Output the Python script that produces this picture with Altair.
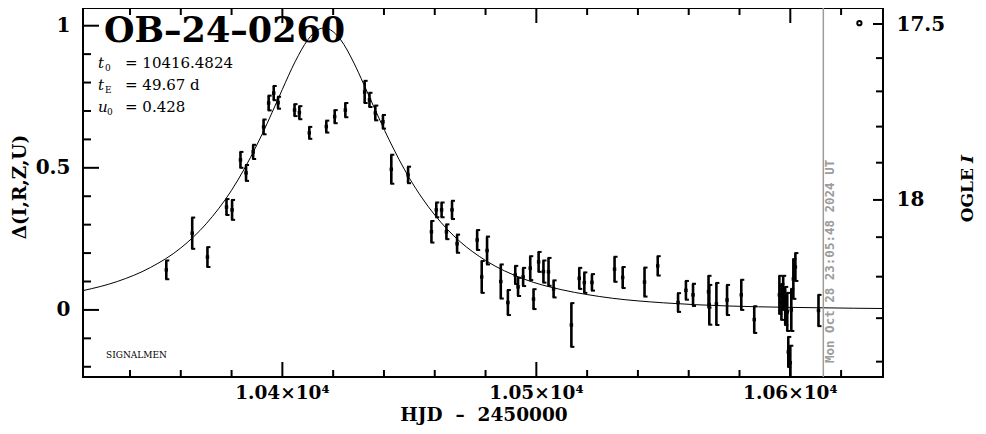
import altair as alt
import pandas as pd

# ---------------- data ----------------
hjd = [10354.3, 10364.5, 10370.5, 10378.0, 10380.2, 10383.5, 10385.7, 10388.5, 10392.6, 10394.6,
       10396.6, 10398.3, 10404.8, 10406.7, 10410.6, 10417.3, 10420.6, 10424.8, 10432.4, 10434.3,
       10436.6, 10439.6, 10442.9, 10449.5, 10458.7, 10460.6, 10462.7, 10464.6, 10466.8, 10468.8,
       10476.7, 10478.5, 10480.6, 10486.0, 10488.8, 10491.7, 10492.8, 10494.8, 10497.6, 10498.9,
       10500.9, 10502.8, 10504.8, 10506.8, 10513.8, 10516.9, 10518.9, 10521.9, 10530.8, 10534.0,
       10542.6, 10547.8, 10555.8, 10558.9, 10561.7, 10567.8, 10568.1, 10570.9, 10575.1, 10580.7,
       10585.8, 10595.7, 10596.5, 10597.2, 10598.0, 10598.8, 10599.2, 10600.0, 10600.4, 10601.2,
       10602.0, 10611.1]
delta = [0.141, 0.270, 0.186, 0.362, 0.352, 0.528, 0.482, 0.556, 0.644, 0.728,
         0.763, 0.729, 0.703, 0.694, 0.623, 0.645, 0.680, 0.703, 0.767, 0.739,
         0.693, 0.662, 0.495, 0.475, 0.275, 0.352, 0.352, 0.275, 0.352, 0.233,
         0.246, 0.116, 0.209, 0.100, 0.026, 0.123, 0.081, 0.116, 0.147, 0.038,
         0.169, 0.135, 0.134, 0.074, -0.053, 0.111, 0.096, 0.097, 0.143, 0.114,
         0.098, 0.155, 0.026, 0.069, 0.053, 0.064, 0.018, 0.021, 0.035, 0.053,
         -0.034, 0.053, 0.028, 0.060, 0.014, -0.007, -0.148, -0.186, 0.000, 0.109,
         0.151, -0.002]
delta_err = [0.033, 0.055, 0.035, 0.028, 0.035, 0.028, 0.028, 0.025, 0.026, 0.026,
             0.025, 0.021, 0.021, 0.023, 0.021, 0.021, 0.023, 0.025, 0.039, 0.025,
             0.026, 0.024, 0.051, 0.029, 0.038, 0.026, 0.026, 0.026, 0.032, 0.032,
             0.035, 0.056, 0.049, 0.060, 0.044, 0.032, 0.032, 0.032, 0.042, 0.035,
             0.035, 0.039, 0.049, 0.030, 0.077, 0.037, 0.036, 0.029, 0.044, 0.037,
             0.051, 0.034, 0.033, 0.033, 0.039, 0.056, 0.070, 0.074, 0.053, 0.053,
             0.047, 0.067, 0.063, 0.060, 0.067, 0.067, 0.053, 0.060, 0.074, 0.070,
             0.049, 0.055]

model_hjd = [10321.5, 10335, 10348, 10360, 10370, 10380, 10390, 10394, 10398, 10400,
             10405, 10410, 10414, 10416.5, 10419, 10423, 10428, 10432, 10435, 10442,
             10450, 10455, 10460, 10465, 10470, 10480, 10495, 10510, 10520, 10530,
             10550, 10575, 10600, 10625, 10636.5]
model_delta = [0.068, 0.100, 0.149, 0.218, 0.303, 0.421, 0.581, 0.656, 0.736, 0.776,
               0.873, 0.950, 0.986, 0.992, 0.985, 0.950, 0.872, 0.795, 0.735, 0.599,
               0.464, 0.394, 0.334, 0.283, 0.240, 0.174, 0.109, 0.071, 0.054, 0.041,
               0.025, 0.014, 0.009, 0.006, 0.005]

x_major_ticks = [10400, 10500, 10600]
x_major_labels = ["1.04\u00d710\u2074", "1.05\u00d710\u2074", "1.06\u00d710\u2074"]
x_minor_ticks = [10340, 10360, 10380, 10420, 10440, 10460, 10480,
                 10520, 10540, 10560, 10580, 10620]
y_major_ticks = [0.0, 0.5, 1.0]
y_minor_ticks = [-0.2, -0.1, 0.1, 0.2, 0.3, 0.4, 0.6, 0.7, 0.8, 0.9]

ogle_mag = [17.5, 17.6, 17.7, 17.8, 17.9, 18.0, 18.1, 18.2, 18.3, 18.4]
ogle_delta = [1.006, 0.886, 0.769, 0.645, 0.518, 0.387, 0.256, 0.117, -0.029, -0.182]
ogle_labelled = [17.5, 18.0]

now_hjd = [10613.0]
now_text = ["Mon Oct 28 23:05:48 2024 UT"]
marker_hjd = [10627.2]
marker_delta = [1.009]

event_name = "OB\u201324\u20130260"
param_symbol = ["t", "t", "u"]
param_sub = ["0", "E", "0"]
param_value = ["= 10416.4824", "= 49.67 d", "= 0.428"]
credit = "SIGNALMEN"
x_title = "HJD\u00a0\u00a0\u2013\u00a0\u00a02450000"
y_title = "\u0394(I,R,Z,U)"
y2_title = "OGLE"
y2_title_italic = "I"

# ---------------- layout ----------------
W, H = 800, 369
FONT = "DejaVu Serif"
XS = alt.Scale(domain=[10321.5, 10636.5], nice=False, zero=False)
YS = alt.Scale(domain=[-0.236, 1.0623], nice=False, zero=False)

pts = pd.DataFrame({"hjd": hjd, "delta": delta, "err": delta_err})
model = pd.DataFrame({"hjd": model_hjd, "delta": model_delta})
ogle = pd.DataFrame({"mag": ogle_mag, "pos": ogle_delta})
ogle_major = ogle[ogle["mag"].isin(ogle_labelled)]
ogle_minor = ogle[~ogle["mag"].isin(ogle_labelled)]

curve = alt.Chart(model).mark_line(color="black", strokeWidth=1, interpolate="monotone", clip=True).encode(
    x=alt.X("hjd:Q", scale=XS, axis=None),
    y=alt.Y("delta:Q", scale=YS, axis=alt.Axis(
        orient="left", values=y_major_ticks, format=".1~f", ticks=False, domain=False, grid=False,
        title=None, labelFont=FONT, labelFontSize=20, labelFontWeight="bold", labelColor="black",
        labelPadding=13)),
)

xlab = alt.Chart(pd.DataFrame({"v": x_major_ticks, "s": x_major_labels})).mark_text(
    align="center", baseline="top", font=FONT, fontSize=18.5, fontWeight="bold", color="black").encode(
    x=alt.X("v:Q", scale=XS, axis=None), y=alt.value(H + 7), text="s:N")

base_pts = alt.Chart(pts).transform_calculate(
    lo="datum.delta - datum.err", hi="datum.delta + datum.err")
bars = base_pts.mark_rule(color="black", strokeWidth=2.6, clip=True).encode(
    x=alt.X("hjd:Q", scale=XS, axis=None),
    y=alt.Y("lo:Q", scale=YS, axis=None), y2="hi:Q")
cap_lo = base_pts.mark_tick(orient="horizontal", size=4, thickness=2, color="black",
                            xOffset=1, clip=True, opacity=1).encode(
    x=alt.X("hjd:Q", scale=XS, axis=None), y=alt.Y("lo:Q", scale=YS, axis=None))
cap_hi = base_pts.mark_tick(orient="horizontal", size=4, thickness=2, color="black",
                            xOffset=1, clip=True, opacity=1).encode(
    x=alt.X("hjd:Q", scale=XS, axis=None), y=alt.Y("hi:Q", scale=YS, axis=None))
centers = base_pts.mark_square(size=12, color="black", opacity=1, clip=True).encode(
    x=alt.X("hjd:Q", scale=XS, axis=None), y=alt.Y("delta:Q", scale=YS, axis=None))


def xtick_layer(vals, length, top):
    df = pd.DataFrame({"v": vals})
    return alt.Chart(df).mark_rule(color="black", strokeWidth=2).encode(
        x=alt.X("v:Q", scale=XS, axis=None),
        y=alt.value(0 if top else H), y2=alt.value(length if top else H - length))


def ytick_layer(vals, length):
    df = pd.DataFrame({"v": vals})
    return alt.Chart(df).mark_rule(color="black", strokeWidth=2).encode(
        y=alt.Y("v:Q", scale=YS, axis=None), x=alt.value(0), x2=alt.value(length))


right_expr = " : ".join(
    f"abs(datum.value - {p}) < 0.0005 ? '{m:g}'" for m, p in zip(ogle_major["mag"], ogle_major["pos"])
) + " : ''"
right_major = alt.Chart(ogle_major).mark_rule(color="black", strokeWidth=2).encode(
    x=alt.value(W), x2=alt.value(W - 10),
    y=alt.Y("pos:Q", scale=YS, axis=alt.Axis(
        orient="right", values=list(ogle_major["pos"]), labelExpr=right_expr, ticks=False,
        domain=False, grid=False, title=None, labelFont=FONT, labelFontSize=20,
        labelFontWeight="bold", labelColor="black", labelPadding=13)))
right_minor = alt.Chart(ogle_minor).mark_rule(color="black", strokeWidth=2).encode(
    x=alt.value(W), x2=alt.value(W - 7), y=alt.Y("pos:Q", scale=YS, axis=None))

now_df = pd.DataFrame({"hjd": now_hjd, "label": now_text})
now_line = alt.Chart(now_df).mark_rule(color="#9c9c9c", strokeWidth=1.5).encode(
    x=alt.X("hjd:Q", scale=XS, axis=None))
now_label = alt.Chart(now_df).mark_text(
    angle=270, align="left", baseline="middle", xOffset=7, font="DejaVu Sans Mono",
    fontWeight="bold", fontSize=12.5, color="#9c9c9c").encode(
    x=alt.X("hjd:Q", scale=XS, axis=None), y=alt.value(355), text="label:N")

marker = alt.Chart(pd.DataFrame({"hjd": marker_hjd, "delta": marker_delta})).mark_point(
    shape="circle", filled=False, size=18, strokeWidth=2, color="black", opacity=1).encode(
    x=alt.X("hjd:Q", scale=XS, axis=None), y=alt.Y("delta:Q", scale=YS, axis=None))


def label(text, x, y, **kw):
    return alt.Chart(pd.DataFrame({"s": [text]})).mark_text(color="black", **kw).encode(
        x=alt.value(x), y=alt.value(y), text="s:N")


texts = [
    label(event_name, 21, 34, align="left", baseline="alphabetic", font=FONT, fontSize=35,
          fontWeight="bold"),
    label(credit, 23, 350, align="left", baseline="alphabetic", font=FONT, fontSize=9),
    label(y_title, -63, 179, angle=270, align="center", baseline="middle", font=FONT,
          fontSize=18.5, fontWeight="bold"),
    label(y2_title_italic, 885, 147, angle=270, align="right", baseline="middle", font=FONT,
          fontSize=17, fontWeight="bold", fontStyle="italic"),
    label(y2_title, 885, 160, angle=270, align="right", baseline="middle", font=FONT,
          fontSize=17, fontWeight="bold"),
    label(x_title, 401, 417, align="center", baseline="bottom", font=FONT, fontSize=18.5,
          fontWeight="bold"),
]
sub_x = [22, 22, 24]
for i, (sym, sub, val) in enumerate(zip(param_symbol, param_sub, param_value)):
    yb = 59.5 + 22 * i
    texts.append(label(sym, 15, yb, align="left", baseline="alphabetic", font=FONT,
                       fontSize=15, fontStyle="italic"))
    texts.append(label(sub, sub_x[i], yb + 3.5, align="left", baseline="alphabetic", font=FONT,
                       fontSize=9))
    texts.append(label(val, 42, yb, align="left", baseline="alphabetic", font=FONT,
                       fontSize=15))

layers = [
    curve, now_line, bars, cap_lo, cap_hi, centers, marker,
    xtick_layer(x_major_ticks, 15, False), xtick_layer(x_minor_ticks, 7, False),
    xtick_layer(x_major_ticks, 15, True), xtick_layer(x_minor_ticks, 7, True),
    ytick_layer(y_major_ticks, 16), ytick_layer(y_minor_ticks, 8),
    right_major, right_minor, now_label, xlab,
] + texts

chart = alt.layer(*layers).resolve_axis(y="independent").properties(
    width=W, height=H,
    autosize=alt.AutoSizeParams(type="none"),
    padding={"left": 75, "top": 0, "right": 95, "bottom": 49},
).configure_view(stroke="black", strokeWidth=2)

chart.save("out.html", embed_options={"renderer": "svg", "actions": False})
